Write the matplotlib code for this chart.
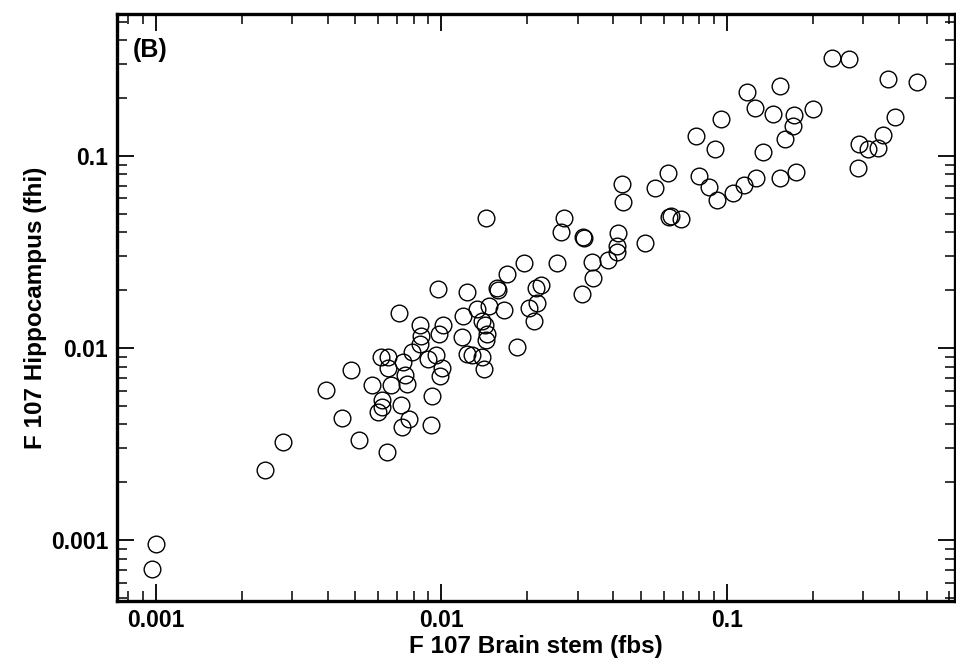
import matplotlib
matplotlib.use('Agg')
import matplotlib.pyplot as plt
from matplotlib.ticker import FixedLocator, FixedFormatter, LogLocator, NullFormatter

plt.rcParams['font.family'] = ['Liberation Sans', 'DejaVu Sans']

# F 107 brain stem vs hippocampus
fbs = [0.00097, 0.00100, 0.00241, 0.00279, 0.00394, 0.00449, 0.00483, 0.00515,
       0.00571, 0.00615, 0.00650, 0.00650, 0.00666, 0.00620, 0.00620, 0.00600,
       0.00722, 0.00734, 0.00746, 0.00758, 0.00770, 0.00728, 0.00645, 0.00789,
       0.00842, 0.00849, 0.00842, 0.00711, 0.00898, 0.00958, 0.01005, 0.00989,
       0.00928, 0.00920, 0.00982, 0.01014, 0.00973, 0.0123, 0.0119, 0.01182,
       0.0123, 0.01281, 0.01334, 0.01469, 0.01660, 0.01389, 0.01422, 0.01446,
       0.01435, 0.01389, 0.01412, 0.01842, 0.01435, 0.0156, 0.0158, 0.0170,
       0.0195, 0.0215, 0.0224, 0.0203, 0.0216, 0.0211, 0.0254, 0.0263,
       0.0269, 0.0313, 0.0316, 0.0337, 0.0340, 0.0311, 0.0384, 0.0413,
       0.0413, 0.0416, 0.0518, 0.0427, 0.0433, 0.0561, 0.0623, 0.0628,
       0.0638, 0.0692, 0.0800, 0.0867, 0.0918, 0.1045, 0.115, 0.1258,
       0.1527, 0.1738, 0.091, 0.0781, 0.0955, 0.133, 0.1589, 0.1694,
       0.171, 0.1443, 0.1248, 0.117, 0.1527, 0.199, 0.232, 0.2665,
       0.365, 0.461, 0.386, 0.3505, 0.2888, 0.3105, 0.3366, 0.2864]
fhi = [0.00071, 0.00096, 0.00231, 0.00323, 0.00601, 0.00430, 0.00764, 0.00331,
       0.00638, 0.00893, 0.00893, 0.00783, 0.00638, 0.00533, 0.00491, 0.00462,
       0.00508, 0.00841, 0.00720, 0.00646, 0.00425, 0.00386, 0.00287, 0.00948,
       0.01055, 0.01148, 0.0131, 0.01528, 0.00881, 0.00914, 0.00783, 0.00711,
       0.00560, 0.00395, 0.01189, 0.0131, 0.0204, 0.01966, 0.01475, 0.01135,
       0.00936, 0.00914, 0.01603, 0.01663, 0.01585, 0.01374, 0.0131, 0.01189,
       0.01107, 0.00893, 0.00773, 0.01006, 0.0476, 0.0205, 0.0201, 0.0244,
       0.0278, 0.0206, 0.0214, 0.0162, 0.0172, 0.0139, 0.0278, 0.0403,
       0.0476, 0.0376, 0.0372, 0.0281, 0.0232, 0.0190, 0.0288, 0.0341,
       0.0317, 0.0398, 0.0353, 0.0715, 0.0577, 0.0682, 0.0816, 0.0482,
       0.0488, 0.0471, 0.0787, 0.0690, 0.0591, 0.0643, 0.0707, 0.0769,
       0.0769, 0.0826, 0.1087, 0.127, 0.1557, 0.105, 0.1225, 0.1432,
       0.163, 0.1653, 0.1775, 0.215, 0.231, 0.1754, 0.323, 0.319,
       0.251, 0.242, 0.1594, 0.1285, 0.1154, 0.1087, 0.110, 0.0866]

major_ticks = [0.001, 0.01, 0.1]
major_labels = ['0.001', '0.01', '0.1']

fig = plt.figure(figsize=(9.56, 6.58), dpi=100)
ax = fig.add_axes([0.1219, 0.0866, 0.877, 0.892])

ax.plot(fbs, fhi, 'o', ms=12, mfc='none', mec='black', mew=1.0, ls='none')

ax.set_xscale('log')
ax.set_yscale('log')
ax.set_xlim(0.00073, 0.627)
ax.set_ylim(0.000482, 0.547)

for axis in (ax.xaxis, ax.yaxis):
    axis.set_major_locator(FixedLocator(major_ticks))
    axis.set_major_formatter(FixedFormatter(major_labels))
    axis.set_minor_locator(LogLocator(base=10, subs=range(2, 10)))
    axis.set_minor_formatter(NullFormatter())

ax.tick_params(which='major', direction='in', length=12, width=1.3,
               top=True, right=True, labelsize=16.5)
ax.tick_params(axis='x', which='major', pad=6)
ax.tick_params(axis='y', which='major', pad=6)
ax.tick_params(which='minor', direction='in', length=7, width=1.1,
               top=True, right=True)
for lab in ax.get_xticklabels() + ax.get_yticklabels():
    lab.set_fontweight('bold')
for sp in ax.spines.values():
    sp.set_linewidth(2.4)

ax.set_xlabel('F 107 Brain stem (fbs)', fontsize=17.5, fontweight='bold', labelpad=2)
ax.set_ylabel('F 107 Hippocampus (fhi)', fontsize=17.5, fontweight='bold', labelpad=3)
ax.text(0.0195, 0.939, '(B)', transform=ax.transAxes, fontsize=18,
        fontweight='bold', va='center', ha='left')

fig.savefig('out.png', dpi=100)
